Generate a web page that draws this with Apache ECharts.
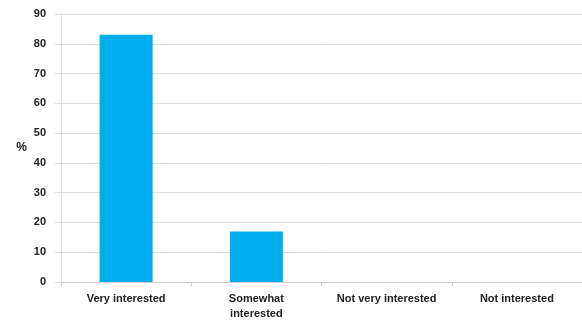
<html>
    <head>
        <meta charset="utf-8">
        <script src="https://cdn.jsdelivr.net/npm/echarts@6/dist/echarts.min.js"></script>
    </head>
    <body>
        <style>
            html, body, #main {
                width: 582px;
                height: 326px;
                margin: 0;
                background: #fff;
            }
        </style>
        <div id="main"></div>
        <script>
            var categories = ['Very interested', 'Somewhat\ninterested', 'Not very interested', 'Not interested'];
            var values = [83, 17, 0, 0];

            var chart = echarts.init(document.getElementById('main'));

            chart.setOption({
                animation: false,
                grid: {
                    left: 61,
                    right: 0,
                    top: 14,
                    bottom: 44
                },
                xAxis: {
                    type: 'category',
                    data: categories,
                    axisLine: { lineStyle: { color: '#d0d0d0' } },
                    axisTick: { show: true, length: 4, lineStyle: { color: '#d0d0d0' } },
                    axisLabel: {
                        interval: 0,
                        color: '#222',
                        fontFamily: 'Liberation Sans',
                        fontWeight: 'bold',
                        fontSize: 11,
                        lineHeight: 15,
                        margin: 9
                    }
                },
                yAxis: {
                    type: 'value',
                    min: 0,
                    max: 90,
                    interval: 10,
                    name: '%',
                    nameLocation: 'middle',
                    nameRotate: 0,
                    nameGap: 34,
                    nameTextStyle: {
                        color: '#222',
                        fontFamily: 'Liberation Sans',
                        fontWeight: 'bold',
                        fontSize: 12,
                        padding: [6, 0, 0, 0]
                    },
                    axisLine: { show: true, lineStyle: { color: '#e0e0e0' } },
                    axisTick: { show: true, length: 6, lineStyle: { color: '#dcdcdc' } },
                    axisLabel: {
                        color: '#222',
                        fontFamily: 'Liberation Sans',
                        fontWeight: 'bold',
                        fontSize: 11,
                        margin: 15
                    },
                    splitLine: { lineStyle: { color: '#dcdcdc' } }
                },
                series: [{
                    type: 'bar',
                    data: values,
                    barWidth: 53,
                    itemStyle: {
                        color: '#00adef',
                        borderWidth: 0
                    }
                }]
            });
        </script>
    </body>
</html>
